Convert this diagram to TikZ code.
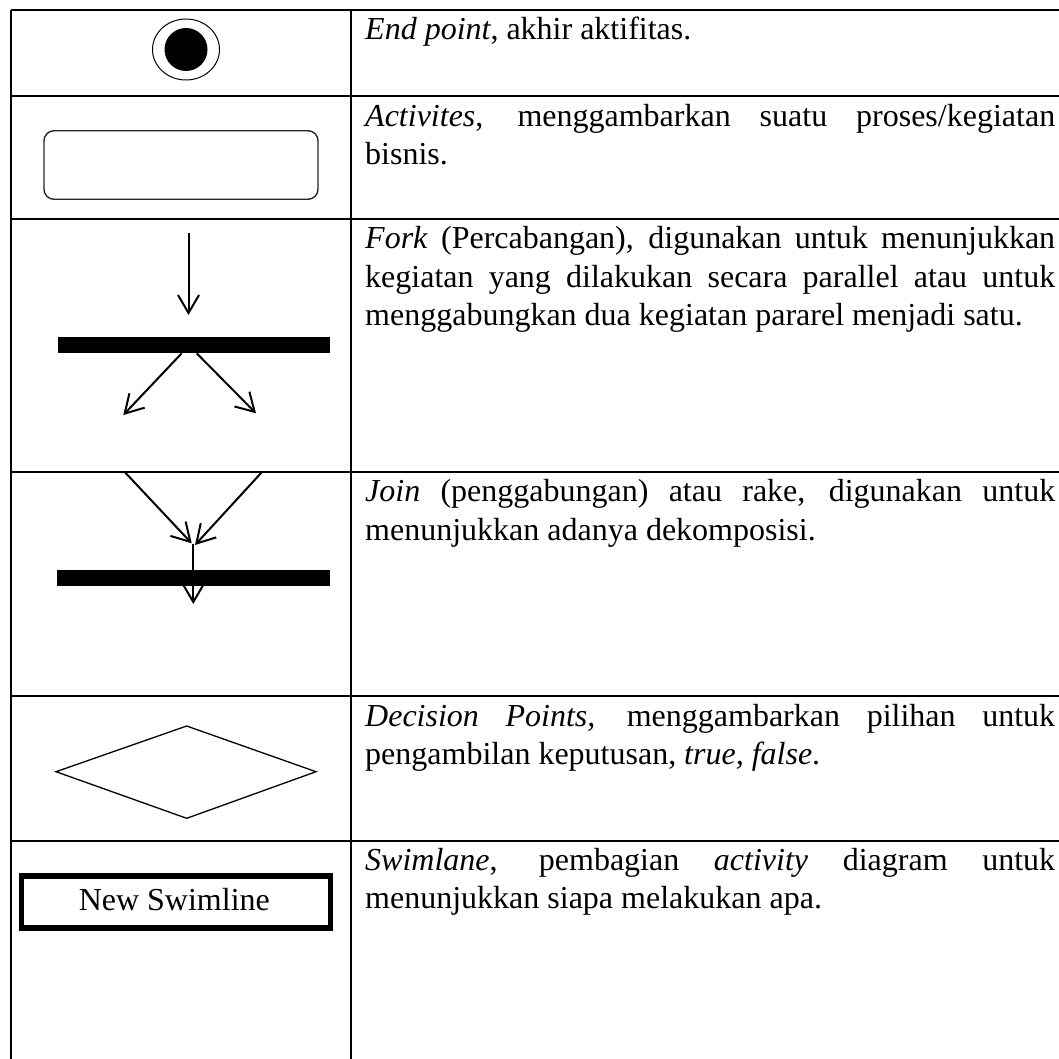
\documentclass[tikz,border=0pt]{standalone}
\usepackage{fontspec}
\setmainfont{Liberation Serif}
\usetikzlibrary{arrows.meta}
\begin{document}
\begin{tikzpicture}[x=1pt,y=-1pt,
  tbl/.style={line width=1.5pt,black},
  barb/.style={line width=2pt,-{Straight Barb[length=18pt,width=21pt,line width=2pt]}},
  barnode/.style={fill=black,draw=none,inner sep=0pt,minimum width=272pt,minimum height=16.5pt},
  txt/.style={anchor=base west,inner sep=0pt,font=\fontsize{32}{38}\selectfont},
  lbl/.style={inner sep=0pt,font=\fontsize{32}{38}\selectfont}]
\useasboundingbox (0,0) rectangle (1059,1059);
% table lines
\draw[tbl] (11,10) -- (11,1059);
\draw[tbl] (351,10) -- (351,1059);
\foreach \yy in {10,96,219,472,696,841}{\draw[tbl] (11,\yy) -- (1059,\yy);}
% End point
\draw[line width=1pt] (186,49.5) ellipse [x radius=33.5, y radius=30.5];
\fill (186,49.5) circle [radius=21.5];
% Activity
\node[draw=black!85,line width=1.4pt,rounded corners=10pt,minimum width=274pt,minimum height=68.5pt,inner sep=0pt] (act) at (181,165) {};
% Fork
\node[barnode] (fbar) at (194,345) {};
\coordinate (fin) at (188.5,233);
\coordinate (fintip) at (188.5,315);
\coordinate (fl0) at (181.7,353.3);
\coordinate (fl1) at (123.3,415);
\coordinate (fr0) at (196.7,353.3);
\coordinate (fr1) at (256,413.3);
\draw[barb] (fin) -- (fintip);
\draw[barb] (fl0) -- (fl1);
\draw[barb] (fr0) -- (fr1);
% Join
\node[barnode,minimum height=16pt,minimum width=272.7pt] (jbar) at (193.65,578) {};
\coordinate (jl0) at (125,472.3);
\coordinate (jl1) at (191.7,543.3);
\coordinate (jr0) at (261.7,472.3);
\coordinate (jr1) at (195,545);
\coordinate (jv0) at (193.3,544);
\coordinate (jv1) at (193.3,604);
\draw[barb] (jl0) -- (jl1);
\draw[barb] (jr0) -- (jr1);
\draw[barb] (jv0) -- (jv1);
% Decision
\draw[line width=1.3pt] (56,771.7) -- (186.7,726) -- (316,771.7) -- (186.7,818.3) -- cycle;
% Swimlane
\node[draw,line width=5.5pt,minimum width=309pt,minimum height=52pt,inner sep=0pt] (swim) at (176,902) {};
\node[lbl,anchor=base] (swimt) at (174.3,910) {New Swimline};
% Texts
\node[txt] (t1a) at (365,39.5) {\textit{End point}, akhir aktifitas.};
\node[txt] (t2a) at (365,126.7) {\makebox[690pt][s]{\textit{Activites}, menggambarkan suatu proses/kegiatan}};
\node[txt] (t2b) at (365,164.5) {bisnis.};
\node[txt] (t3a) at (365,248.5) {\makebox[690pt][s]{\textit{Fork} (Percabangan), digunakan untuk menunjukkan}};
\node[txt] (t3b) at (365,287) {\makebox[690pt][s]{kegiatan yang dilakukan secara parallel atau untuk}};
\node[txt] (t3c) at (365,325.5) {menggabungkan dua kegiatan pararel menjadi satu.};
\node[txt] (t4a) at (365,501.7) {\makebox[690pt][s]{\textit{Join} (penggabungan) atau rake, digunakan untuk}};
\node[txt] (t4b) at (365,540) {menunjukkan adanya dekomposisi.};
\node[txt] (t5a) at (365,726) {\makebox[690pt][s]{\textit{Decision Points,} menggambarkan pilihan untuk}};
\node[txt] (t5b) at (365,764) {pengambilan keputusan, \textit{true, false}.};
\node[txt] (t6a) at (365,870.7) {\makebox[690pt][s]{\textit{Swimlane}, pembagian \textit{activity} diagram untuk}};
\node[txt] (t6b) at (365,908.5) {menunjukkan siapa melakukan apa.};
\end{tikzpicture}
\end{document}
